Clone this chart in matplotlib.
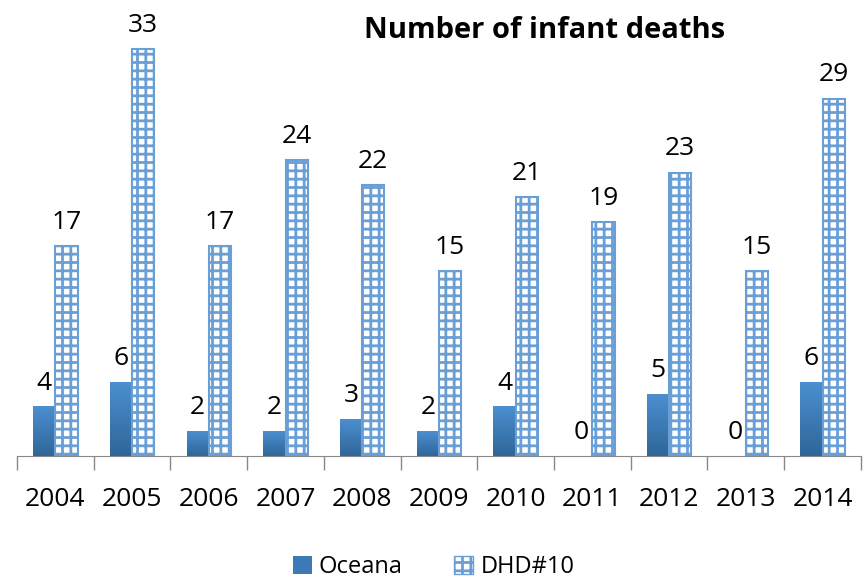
import numpy as np
import matplotlib.pyplot as plt
from matplotlib.colors import LinearSegmentedColormap
from matplotlib.patches import Patch

years = ['2004', '2005', '2006', '2007', '2008', '2009', '2010', '2011', '2012', '2013', '2014']
oceana = [4, 6, 2, 2, 3, 2, 4, 0, 5, 0, 6]
dhd10 = [17, 33, 17, 24, 22, 15, 21, 19, 23, 15, 29]

FONT = 'Open Sans'
plt.rcParams['hatch.linewidth'] = 2.0
plt.rcParams['hatch.color'] = '#6a9fd6'

fig = plt.figure(figsize=(8.67, 5.8), dpi=100)
ax = fig.add_axes([0.0196, 0.2138, 0.9734, 0.765])

x = np.arange(len(years))
w = 0.29
grad = LinearSegmentedColormap.from_list('oc', ['#2f6699', '#4b8fcf'])
gimg = np.linspace(0, 1, 64).reshape(-1, 1)

for i, v in enumerate(oceana):
    if v > 0:
        ax.imshow(gimg, extent=[x[i] - w, x[i], 0, v], origin='lower',
                  aspect='auto', cmap=grad, zorder=2)
    ax.text(x[i] - w / 2, v + 0.9, str(v), ha='center', va='bottom',
            fontsize=19, family=FONT)

ax.bar(x + w / 2, dhd10, width=w, color='white', edgecolor='#6a9fd6',
       hatch='++', linewidth=1.5, zorder=2)
for i, v in enumerate(dhd10):
    ax.text(x[i] + w / 2, v + 0.9, str(v), ha='center', va='bottom',
            fontsize=19, family=FONT)

ax.set_xlim(-0.5, len(years) - 0.5)
ax.set_ylim(0, 36)
ax.set_xticks(x)
ax.set_xticklabels(years, fontsize=19, family=FONT)
ax.tick_params(axis='x', length=0, pad=22)
ax.set_xticks(np.arange(len(years) + 1) - 0.5, minor=True)
ax.tick_params(axis='x', which='minor', length=10, color='#888888', width=1)
ax.set_yticks([])
for s in ['top', 'right', 'left']:
    ax.spines[s].set_visible(False)
ax.spines['bottom'].set_color('#888888')

fig.text(0.628, 0.948, 'Number of infant deaths', ha='center', va='center',
         fontsize=21, fontweight='bold', family=FONT)

handles = [Patch(facecolor='#3d7ab5', edgecolor='none', label='Oceana'),
           Patch(facecolor='white', edgecolor='#6a9fd6', hatch='++', label='DHD#10')]
fig.legend(handles=handles, loc='center', bbox_to_anchor=(0.5, 0.022), ncol=2,
           frameon=False, prop={'family': FONT, 'size': 17}, handlelength=0.8,
           handleheight=0.8, columnspacing=2.2, handletextpad=0.3)

fig.savefig('out.png', dpi=100)
